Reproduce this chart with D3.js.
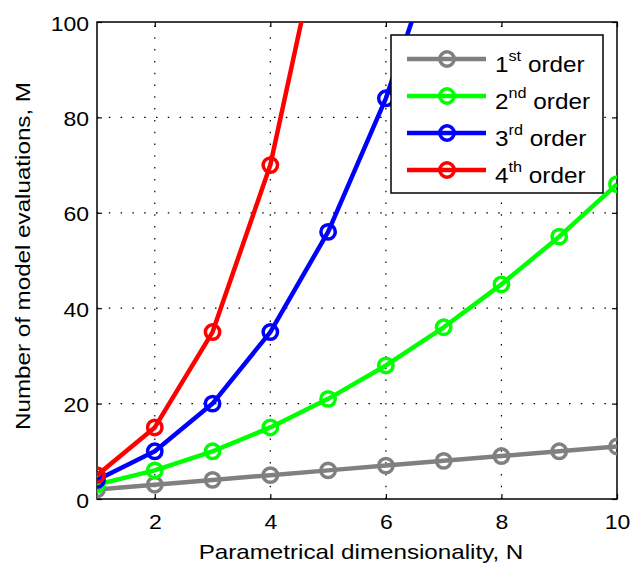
<!DOCTYPE html>
<html><head><meta charset="utf-8">
<script src="https://cdn.jsdelivr.net/npm/d3@7"></script>
<style>body{margin:0;background:#fff}svg{display:block}text{font-family:"Liberation Sans",Arial,sans-serif;fill:#000}</style>
</head><body><svg id="c" width="631" height="564"></svg>
<script>
const N1 = [1,2,3,4,5,6,7,8,9,10];
const order1 = [2,3,4,5,6,7,8,9,10,11];
const order2 = [3,6,10,15,21,28,36,45,55,66];
const N3 = [1,2,3,4,5,6,7];
const order3 = [4,10,20,35,56,84,120];
const N4 = [1,2,3,4,5];
const order4 = [5,15,35,70,126];
const xTicks = [2,4,6,8,10];
const yTicks = [0,20,40,60,80,100];
const seriesNames = ["1","2","3","4"];
const seriesSup = ["st","nd","rd","th"];
const colors = ["#808080","#00ff00","#0000ff","#ff0000"];

const series = [
  {x:N1,y:order1},{x:N1,y:order2},{x:N3,y:order3},{x:N4,y:order4}
];

const L=97,R=617,T=22,B=499;
const SX=1.15;
const svg=d3.select("#c");
const x=d3.scaleLinear().domain([1,10]).range([L,R]);
const y=d3.scaleLinear().domain([0,100]).range([B,T]);

svg.append("defs").append("clipPath").attr("id","clip").append("rect")
  .attr("x",L).attr("y",T).attr("width",R-L).attr("height",B-T);

// grid
const g=svg.append("g");
xTicks.filter(d=>d<10).forEach(d=>{
  g.append("line").attr("x1",x(d)).attr("x2",x(d)).attr("y1",B).attr("y2",T)
   .attr("stroke","#000").attr("stroke-width",1.2).attr("stroke-dasharray","1.5,10.3");
});
yTicks.filter(d=>d>0&&d<100).forEach(d=>{
  g.append("line").attr("x1",L).attr("x2",R).attr("y1",y(d)).attr("y2",y(d))
   .attr("stroke","#000").attr("stroke-width",1.2).attr("stroke-dasharray","1.5,10.3");
});

// axes
const xa=svg.append("g").attr("transform",`translate(0,${B})`)
  .call(d3.axisBottom(x).tickValues(xTicks).tickSizeInner(-5).tickSizeOuter(0).tickPadding(16));
const xt=svg.append("g").attr("transform",`translate(0,${T})`)
  .call(d3.axisTop(x).tickValues(xTicks).tickSizeInner(-5).tickSizeOuter(0).tickFormat(""));
const ya=svg.append("g").attr("transform",`translate(${L},0)`)
  .call(d3.axisLeft(y).tickValues(yTicks).tickSizeInner(-5).tickSizeOuter(0).tickPadding(8));
const yr=svg.append("g").attr("transform",`translate(${R},0)`)
  .call(d3.axisRight(y).tickValues(yTicks).tickSizeInner(-5).tickSizeOuter(0).tickFormat(""));
[xa,xt,ya,yr].forEach(a=>{
  a.select(".domain").remove();
  a.selectAll("line").attr("stroke","#000").attr("stroke-width",1.2);
  a.selectAll("text").style("font-family","Liberation Sans, Arial, sans-serif").style("font-size","20px").attr("fill","#000");
});
xa.selectAll("text").attr("dy","0.71em").attr("transform",`scale(${SX},1)`);
ya.selectAll("text").attr("x",-8/SX).attr("dy","0.4em").attr("transform",`scale(${SX},1)`);
svg.append("rect").attr("x",L).attr("y",T).attr("width",R-L).attr("height",B-T)
  .attr("fill","none").attr("stroke","#000").attr("stroke-width",1.5);

// series
const line=d3.line().x(d=>x(d[0])).y(d=>y(d[1]));
const plot=svg.append("g").attr("clip-path","url(#clip)");
series.forEach((s,i)=>{
  const pts=s.x.map((v,j)=>[v,s.y[j]]);
  plot.append("path").datum(pts).attr("d",line).attr("fill","none")
    .attr("stroke",colors[i]).attr("stroke-width",4.5).attr("stroke-linejoin","round");
  plot.selectAll(null).data(pts).enter().append("circle")
    .attr("cx",d=>x(d[0])).attr("cy",d=>y(d[1])).attr("r",7.2)
    .attr("fill","none").attr("stroke",colors[i]).attr("stroke-width",3.5);
});

// labels
svg.append("text").attr("transform",`translate(${(L+R)/2+4},559) scale(1.18,1)`).attr("text-anchor","middle")
  .style("font-size","20.5px").text("Parametrical dimensionality, N");
svg.append("text").attr("transform",`translate(30,256) rotate(-90) scale(1.18,1)`).attr("text-anchor","middle")
  .style("font-size","20.5px").text("Number of model evaluations, M");

// legend
const lg=svg.append("g");
lg.append("rect").attr("x",391).attr("y",35).attr("width",212).attr("height",158)
  .attr("fill","#fff").attr("stroke","#000").attr("stroke-width",1.5);
const rowsY=[59,96,133,170];
seriesNames.forEach((nm,i)=>{
  const yy=rowsY[i];
  lg.append("line").attr("x1",407).attr("x2",486).attr("y1",yy).attr("y2",yy)
    .attr("stroke",colors[i]).attr("stroke-width",4.5);
  lg.append("circle").attr("cx",447).attr("cy",yy).attr("r",7.2).attr("fill","none")
    .attr("stroke",colors[i]).attr("stroke-width",3.5);
  const t=lg.append("text").attr("transform",`translate(495,${yy+13}) scale(1.08,1)`).style("font-size","22.5px");
  t.append("tspan").text(nm);
  t.append("tspan").attr("dy",-11).style("font-size","15px").text(seriesSup[i]);
  t.append("tspan").attr("dy",11).text(" order");
});
</script></body></html>
